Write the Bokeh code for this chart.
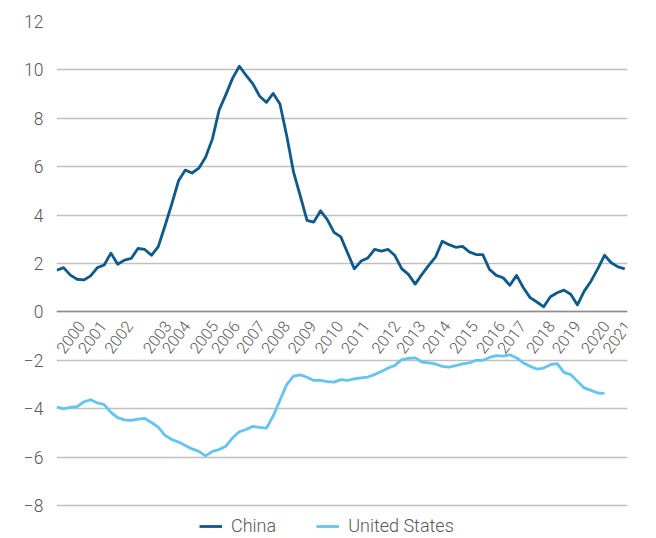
from bokeh.plotting import figure
from bokeh.models import Range1d, FixedTicker, Legend, LegendItem
from bokeh.embed import file_html
from bokeh.resources import INLINE

china = [1.72, 1.83, 1.52, 1.35, 1.32, 1.49, 1.83, 1.94, 2.43, 1.97,
         2.14, 2.21, 2.62, 2.58, 2.34, 2.70, 3.56, 4.46, 5.42, 5.86,
         5.74, 5.94, 6.39, 7.14, 8.34, 8.98, 9.66, 10.15, 9.77, 9.42,
         8.91, 8.66, 9.03, 8.59, 7.28, 5.79, 4.80, 3.78, 3.71, 4.18,
         3.81, 3.29, 3.10, 2.44, 1.78, 2.10, 2.23, 2.58, 2.51, 2.58,
         2.33, 1.79, 1.55, 1.15, 1.55, 1.92, 2.26, 2.92, 2.78, 2.67,
         2.71, 2.48, 2.37, 2.37, 1.75, 1.51, 1.41, 1.10, 1.51, 1.00,
         0.59, 0.41, 0.21, 0.63, 0.79, 0.90, 0.73, 0.29, 0.86, 1.27,
         1.78, 2.34, 2.03, 1.86, 1.78]

united_states = [-3.93, -4.01, -3.94, -3.91, -3.72, -3.63, -3.76, -3.83, -4.15, -4.37,
                 -4.46, -4.48, -4.43, -4.40, -4.57, -4.76, -5.10, -5.27, -5.38, -5.52,
                 -5.66, -5.76, -5.95, -5.76, -5.69, -5.55, -5.20, -4.95, -4.86, -4.73,
                 -4.77, -4.80, -4.30, -3.65, -3.00, -2.65, -2.60, -2.70, -2.83, -2.83,
                 -2.88, -2.90, -2.80, -2.83, -2.77, -2.73, -2.69, -2.59, -2.46, -2.32,
                 -2.21, -1.97, -1.92, -1.90, -2.07, -2.11, -2.15, -2.25, -2.28, -2.22,
                 -2.15, -2.11, -2.00, -2.00, -1.88, -1.81, -1.83, -1.77, -1.90, -2.11,
                 -2.25, -2.36, -2.32, -2.18, -2.14, -2.50, -2.59, -2.87, -3.14, -3.24,
                 -3.35, -3.37]

year_labels = ["2000", "2001", "2002", "2003", "2004", "2005", "2006", "2007",
               "2008", "2009", "2010", "2011", "2012", "2013", "2014", "2015",
               "2016", "2017", "2018", "2019", "2020", "2021"]
# observation index at which each year label sits
year_label_index = [3.6, 6.8, 10.7, 16.4, 19.2, 23.3, 26.5, 30.2, 33.9, 37.8,
                    41.8, 45.7, 50.2, 53.9, 57.7, 61.7, 65.7, 68.8, 73.1, 76.9,
                    81.2, 84.4]

y_ticks = [-8, -6, -4, -2, 0, 2, 4, 6, 8, 10, 12]

FONT = "Roboto Light"
TXT = "#595959"

x_china = list(range(len(china)))
x_us = list(range(len(united_states)))

# the frame reaches below -8 so that the legend can sit under the last gridline
p = figure(width=648, height=538, output_backend="svg", toolbar_location=None,
           x_range=Range1d(-0.05, 84.4), y_range=Range1d(-9.28, 12),
           min_border_left=56, min_border_right=21, min_border_top=21,
           min_border_bottom=2)
p.outline_line_color = None
p.background_fill_color = "white"

# y axis
p.yaxis.ticker = FixedTicker(ticks=y_ticks)
p.yaxis.axis_line_color = None
p.yaxis.major_tick_line_color = None
p.yaxis.minor_tick_line_color = None
p.yaxis.major_label_text_font = FONT
p.yaxis.major_label_text_font_size = "17.5px"
p.yaxis.major_label_text_color = TXT
p.yaxis.major_label_standoff = 7

p.ygrid.grid_line_color = "#bfbfbf"
p.ygrid.grid_line_width = 1.3
p.xgrid.grid_line_color = None

# x axis drawn at y = 0
xaxis = p.xaxis[0]
xaxis.fixed_location = 0
xaxis.ticker = FixedTicker(ticks=year_label_index)
xaxis.major_label_overrides = {t: s for t, s in zip(year_label_index, year_labels)}
xaxis.axis_line_color = "#8c8c8c"
xaxis.axis_line_width = 1.5
xaxis.major_tick_line_color = None
xaxis.minor_tick_line_color = None
xaxis.major_label_orientation = 0.92
xaxis.major_label_text_font = FONT
xaxis.major_label_text_font_size = "16px"
xaxis.major_label_text_color = TXT
xaxis.major_label_standoff = 5

r_china = p.line(x_china, china, line_color="#0e5a8c", line_width=2.8, line_join="round")
r_us = p.line(x_us, united_states, line_color="#62c4f1", line_width=2.8, line_join="round")

legend = Legend(items=[LegendItem(label="China", renderers=[r_china]),
                       LegendItem(label="United States", renderers=[r_us])],
                orientation="horizontal", location=(143, 0),
                border_line_color=None, background_fill_alpha=0,
                label_text_font=FONT, label_text_font_size="18px",
                label_text_color=TXT, glyph_width=23, label_standoff=9,
                spacing=40, padding=0, margin=0)
p.add_layout(legend, "center")

open("out.html", "w").write(file_html(p, INLINE))
